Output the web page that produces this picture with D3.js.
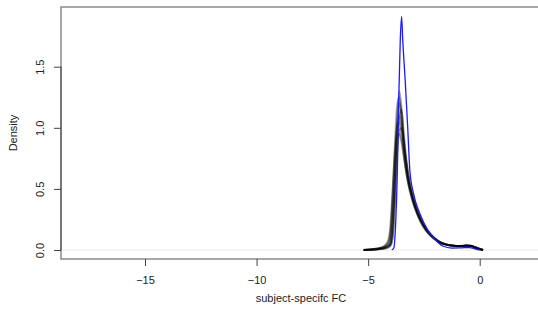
<!DOCTYPE html>
<html><head><meta charset="utf-8">
<script src="https://cdn.jsdelivr.net/npm/d3@7"></script>
<style>body{margin:0;background:#fff}svg{display:block}text{font-family:"Liberation Sans",Arial,sans-serif;font-size:11px;fill:#222}</style>
</head><body><svg id="c" width="538" height="320"></svg>
<script>
// x ticks / y ticks
const xTicks = [-15, -10, -5, 0];
const yTicks = [0, 0.5, 1.0, 1.5];
const yTickLabels = ["0.0", "0.5", "1.0", "1.5"];
// shared x grid for posterior-draw densities
const gridX = [-5.2,-4.9,-4.6,-4.3,-4.1,-4.0,-3.9,-3.8,-3.7,-3.6,-3.5,-3.4,-3.3,-3.2,-3.0,-2.8,-2.6,-2.4,-2.2,-2.0,-1.8,-1.6,-1.4,-1.2,-1.0,-0.8,-0.6,-0.4,-0.2,0.0,0.15];
const drawA = [0,0.003,0.008,0.018,0.035,0.06,0.25,0.62,0.95,1.10,1.02,0.85,0.70,0.58,0.42,0.31,0.23,0.17,0.125,0.09,0.065,0.05,0.04,0.035,0.032,0.032,0.035,0.033,0.02,0.008,0];
const drawB = [0,0.004,0.01,0.025,0.06,0.15,0.45,0.85,1.18,1.25,1.05,0.82,0.66,0.54,0.39,0.29,0.21,0.155,0.115,0.085,0.062,0.048,0.04,0.035,0.033,0.034,0.038,0.034,0.02,0.007,0];
const drawC = [0,0.002,0.005,0.012,0.025,0.04,0.12,0.42,0.78,0.98,1.0,0.88,0.74,0.62,0.45,0.33,0.245,0.18,0.13,0.095,0.068,0.052,0.042,0.036,0.032,0.031,0.034,0.032,0.02,0.009,0];
const drawD = [0,0.005,0.012,0.03,0.08,0.2,0.5,0.82,1.02,1.05,0.92,0.78,0.65,0.55,0.41,0.30,0.225,0.165,0.12,0.088,0.064,0.05,0.041,0.036,0.033,0.033,0.036,0.033,0.021,0.008,0];
const drawE = [0,0.002,0.006,0.014,0.03,0.05,0.2,0.6,1.05,1.30,1.15,0.9,0.72,0.58,0.41,0.30,0.22,0.16,0.12,0.088,0.063,0.048,0.039,0.034,0.031,0.031,0.035,0.033,0.02,0.008,0];
const drawF = [0,0.002,0.005,0.01,0.02,0.035,0.1,0.38,0.82,1.10,1.15,0.95,0.76,0.62,0.44,0.32,0.24,0.175,0.13,0.094,0.067,0.051,0.041,0.035,0.032,0.032,0.036,0.034,0.022,0.009,0];
const drawG = [0,0.004,0.01,0.022,0.05,0.12,0.4,0.75,0.93,0.95,0.88,0.76,0.64,0.55,0.42,0.315,0.235,0.175,0.128,0.092,0.066,0.05,0.04,0.035,0.032,0.032,0.034,0.031,0.019,0.007,0];
const drawH = [0,0.003,0.007,0.016,0.032,0.055,0.22,0.58,1.0,1.2,1.1,0.88,0.71,0.58,0.42,0.305,0.225,0.165,0.122,0.09,0.065,0.05,0.04,0.035,0.032,0.033,0.037,0.035,0.022,0.008,0];
// observed density (blue)
const obsX = [-3.94,-3.85,-3.76,-3.69,-3.63,-3.56,-3.50,-3.45,-3.34,-3.22,-3.13,-2.95,-2.69,-2.33,-1.97,-1.66,-1.25,-0.81,-0.45,-0.18,0.0];
const obsY = [0,0.016,0.245,0.65,1.23,1.72,1.91,1.72,1.39,0.98,0.65,0.45,0.30,0.163,0.082,0.033,0.016,0.018,0.02,0.008,0];

const svg = d3.select("#c");
const L = 61, T = 7, B = 259, R = 541;
const x = d3.scaleLinear().domain([-15, 0]).range([145, 479.7]);
const y = d3.scaleLinear().domain([0, 1.5]).range([250, 66.7]);

// zero line
svg.append("line").attr("x1", L).attr("x2", R).attr("y1", y(0)).attr("y2", y(0))
  .attr("stroke", "#ececec").attr("stroke-width", 1);

const line = d3.line().x(d => x(d[0])).y(d => y(d[1])).curve(d3.curveMonotoneX);
const draws = [drawA, drawB, drawC, drawD, drawE, drawF, drawG, drawH];
draws.forEach(arr => {
  svg.append("path").attr("d", line(gridX.map((v, i) => [v, arr[i]])))
    .attr("fill", "none").attr("stroke", "#000").attr("stroke-opacity", 0.36)
    .attr("stroke-width", 2).attr("stroke-linejoin", "round");
});
svg.append("path").attr("d", line(obsX.map((v, i) => [v, obsY[i]])))
  .attr("fill", "none").attr("stroke", "#1a1aff").attr("stroke-width", 1.3);

// box
svg.append("rect").attr("x", L).attr("y", T).attr("width", R - L).attr("height", B - T)
  .attr("fill", "none").attr("stroke", "#8a8a8a").attr("stroke-width", 1.5);

// x axis
const xa = svg.append("g").attr("transform", `translate(0,${B})`)
  .call(d3.axisBottom(x).tickValues(xTicks).tickSize(7).tickPadding(10).tickFormat(d3.format("d")));
xa.select(".domain").remove();
xa.selectAll("line").attr("stroke", "#444");
xa.selectAll("text").style("font-size", "11px").attr("fill", "#222");

// y axis
const ya = svg.append("g").attr("transform", `translate(${L},0)`)
  .call(d3.axisLeft(y).tickValues(yTicks).tickSize(7).tickFormat(""));
ya.select(".domain").attr("d", `M0,${y(1.5)}V${y(0)}`).attr("stroke", "#444");
ya.selectAll("line").attr("stroke", "#444");
ya.selectAll(".tick").append("text").attr("class", "lbl")
  .attr("transform", "translate(-21,0) rotate(-90)")
  .attr("text-anchor", "middle").attr("dy", "0.35em")
  .attr("fill", "#222").style("font-size", "11px")
  .text((d, i) => yTickLabels[yTicks.indexOf(d)]);

svg.append("text").attr("x", 301).attr("y", 302).attr("text-anchor", "middle").text("subject-specifc FC");
svg.append("text").attr("transform", "translate(17,133) rotate(-90)").attr("text-anchor", "middle").text("Density");
</script></body></html>
